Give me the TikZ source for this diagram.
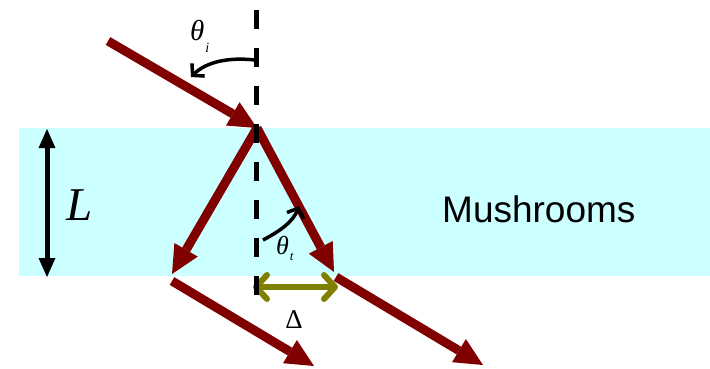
\documentclass[tikz,border=0pt]{standalone}
\usepackage{fontspec}
\setmainfont{Liberation Serif}
\newfontfamily\arialfont{Liberation Sans}
\usetikzlibrary{arrows.meta}
\definecolor{slab}{RGB}{204,255,255}
\definecolor{raycol}{RGB}{128,0,0}
\definecolor{olivecol}{RGB}{128,128,0}
\begin{document}
\begin{tikzpicture}[x=1pt,y=-1pt,
  rayline/.style={draw=raycol, line width=9pt, -{Triangle[length=28pt,width=27pt,line width=0pt]}},
  anglearc/.style={draw=black, line width=3.5pt, -{Straight Barb[length=8pt,width=18pt]}},
  dimarrow/.style={draw=black, line width=5pt, {Triangle[length=19pt,width=17pt,line width=0pt]}-{Triangle[length=19pt,width=17pt,line width=0pt]}},
  shiftarrow/.style={draw=olivecol, line width=6pt, {Straight Barb[round,length=11pt,width=24pt]}-{Straight Barb[round,length=11pt,width=24pt]}},
  normalline/.style={draw=black, line width=5pt, dash pattern=on 19pt off 19pt},
  lbl/.style={inner sep=0pt, anchor=base west}]
\useasboundingbox (0,0) rectangle (710,368);
% slab
\fill[slab] (19,128) rectangle (710,276);
% coordinates
\coordinate (src) at (108,41);
\coordinate (P) at (257,128);
\coordinate (A) at (172,274);
\coordinate (B) at (334,272);
\coordinate (A2) at (172,281);
\coordinate (A3) at (314,366);
\coordinate (B2) at (336,277);
\coordinate (B3) at (483,365);
\coordinate (ntop) at (256,10);
\coordinate (nbot) at (256,295);
\coordinate (Ltop) at (47,129);
\coordinate (Lbot) at (47,277);
\coordinate (Dl) at (253,287);
\coordinate (Dr) at (338,287);
% rays
\draw[rayline] (src) -- (P);
\draw[rayline] (P) -- (A);
\draw[rayline] (P) -- (B);
\draw[rayline] (A2) -- (A3);
\draw[rayline] (B2) -- (B3);
% angle arcs
\coordinate (ti0) at (255,60);
\coordinate (ti1) at (191,77);
\draw[anglearc] (ti0) .. controls (228,57) and (206,62) .. (ti1);
\coordinate (tt0) at (263,240);
\coordinate (tt1) at (299,206);
\draw[anglearc] (tt0) .. controls (280,231) and (293,222) .. (tt1);
% L dimension
\draw[dimarrow] (Ltop) -- (Lbot);
% shift arrow
\draw[shiftarrow] (Dl) -- (Dr);
% normal
\draw[normalline] (ntop) -- (nbot);
% labels
\node[lbl] (Ltext) at (66,220) {\fontsize{47}{47}\selectfont\itshape L};
\node[lbl] (mush) at (442,222) {\arialfont\fontsize{37}{40}\selectfont Mushrooms};
\node[lbl, anchor=base] (delta) at (294,328) {\fontsize{27}{27}\selectfont Δ};
\node[lbl] (thi) at (190,40) {\fontsize{29}{29}\selectfont\itshape θ\hspace{1pt}\raisebox{-12pt}{\fontsize{14}{14}\selectfont i}};
\node[lbl] (tht) at (276,254) {\fontsize{26}{26}\selectfont\itshape θ\hspace{1pt}\raisebox{-6pt}{\fontsize{13}{13}\selectfont t}};
\end{tikzpicture}
\end{document}
